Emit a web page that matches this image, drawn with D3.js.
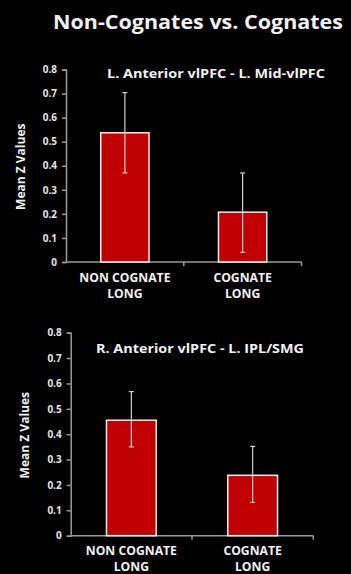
<!DOCTYPE html>
<html>
<head>
<meta charset="utf-8">
<script src="https://cdn.jsdelivr.net/npm/d3@7"></script>
<style>
  body { margin: 0; background: #000; }
  svg { display: block; }
  text { font-family: "Open Sans", "DejaVu Sans", sans-serif; font-weight: bold; }
</style>
</head>
<body>
<div class="chart"></div>
<script>
// data
var mainTitle = "Non-Cognates vs. Cognates";
var panelTitles = ["L. Anterior vlPFC - L. Mid-vlPFC", "R. Anterior vlPFC - L. IPL/SMG"];
var categories = ["NON COGNATE LONG", "COGNATE LONG"];
var categoryLines = [["NON COGNATE", "LONG"], ["COGNATE", "LONG"]];
var yTicks = [0, 0.1, 0.2, 0.3, 0.4, 0.5, 0.6, 0.7, 0.8];
var yLabel = "Mean Z Values";

var means1 = [0.537, 0.207];
var errLow1 = [0.370, 0.040];
var errHigh1 = [0.704, 0.370];

var means2 = [0.455, 0.238];
var errLow2 = [0.350, 0.131];
var errHigh2 = [0.568, 0.352];

var W = 351, H = 574;
var svg = d3.select(".chart").append("svg")
    .attr("width", W)
    .attr("height", H);

svg.append("rect").attr("width", W).attr("height", H).attr("fill", "#000");

svg.append("text")
    .attr("x", 198)
    .attr("y", 29)
    .attr("text-anchor", "middle")
    .attr("fill", "#f2f2f2")
    .attr("font-size", 19)
    .attr("textLength", 290)
    .attr("lengthAdjust", "spacingAndGlyphs")
    .text(mainTitle);

// panel layouts
var panels = [
    { left: 66, right: 301.5, top: 69.5, bottom: 262, title: panelTitles[0], tx: 107, ty: 78, tw: 218,
      ylx: 21, means: means1, lo: errLow1, hi: errHigh1, labY: 282 },
    { left: 70.7, right: 313.3, top: 332.7, bottom: 535.7, title: panelTitles[1], tx: 96, ty: 353, tw: 208,
      ylx: 25, means: means2, lo: errLow2, hi: errHigh2, labY: 554.5 }
];

panels.forEach(function (p) {
    var g = svg.append("g");

    var x = d3.scaleBand()
        .domain(categories)
        .range([p.left, p.right])
        .paddingInner(0.59)
        .paddingOuter(0.295);

    var y = d3.scaleLinear()
        .domain([0, 0.8])
        .range([p.bottom, p.top]);

    // y axis
    var yAxis = g.append("g")
        .attr("transform", "translate(" + p.left + ",0)")
        .call(d3.axisLeft(y).tickValues(yTicks).tickSize(4).tickPadding(5)
            .tickFormat(function (d) { return d === 0 ? "0" : d3.format(".1f")(d); }));
    yAxis.select(".domain").attr("stroke", "#9a9a9a").attr("stroke-width", 1.5);
    yAxis.selectAll(".tick line").attr("stroke", "#9a9a9a").attr("stroke-width", 1.5);
    yAxis.selectAll(".tick text")
        .attr("fill", "#e6e6e6")
        .attr("font-size", 10)
        .attr("font-family", "'Liberation Sans', Arial, sans-serif")
        .attr("font-weight", "bold");

    // x axis: line with ticks at band boundaries
    var xl = g.append("g");
    xl.append("line")
        .attr("x1", p.left).attr("x2", p.right)
        .attr("y1", p.bottom).attr("y2", p.bottom)
        .attr("stroke", "#9a9a9a").attr("stroke-width", 1.5);
    var bounds = [p.left + (p.right - p.left) / 2, p.right];
    xl.selectAll(".xt")
        .data(bounds)
        .enter()
        .append("line")
        .attr("x1", function (d) { return d; })
        .attr("x2", function (d) { return d; })
        .attr("y1", p.bottom)
        .attr("y2", p.bottom + 4)
        .attr("stroke", "#9a9a9a").attr("stroke-width", 1.5);

    // bars
    g.selectAll(".bar")
        .data(p.means)
        .enter()
        .append("rect")
        .attr("x", function (d, i) { return x(categories[i]); })
        .attr("y", function (d) { return y(d); })
        .attr("width", x.bandwidth())
        .attr("height", function (d) { return y(0) - y(d); })
        .attr("fill", "#c00000")
        .attr("stroke", "#f0f0f0")
        .attr("stroke-width", 1.5);

    // error bars
    p.means.forEach(function (d, i) {
        var cx = x(categories[i]) + x.bandwidth() / 2;
        g.append("line")
            .attr("x1", cx).attr("x2", cx)
            .attr("y1", y(p.lo[i])).attr("y2", y(p.hi[i]))
            .attr("stroke", "#d0d0d0").attr("stroke-width", 1.2);
        [p.lo[i], p.hi[i]].forEach(function (v) {
            g.append("line")
                .attr("x1", cx - 2.5).attr("x2", cx + 2.5)
                .attr("y1", y(v)).attr("y2", y(v))
                .attr("stroke", "#d0d0d0").attr("stroke-width", 1.2);
        });
    });

    // category labels
    categoryLines.forEach(function (lines, i) {
        var cx = x(categories[i]) + x.bandwidth() / 2;
        var t = g.append("text")
            .attr("x", cx)
            .attr("y", p.labY)
            .attr("text-anchor", "middle")
            .attr("fill", "#f2f2f2")
            .attr("font-size", 12.2);
        lines.forEach(function (l, k) {
            t.append("tspan")
                .attr("x", cx)
                .attr("dy", k === 0 ? 0 : 16)
                .text(l);
        });
    });

    // panel title
    g.append("text")
        .attr("x", p.tx)
        .attr("y", p.ty)
        .attr("fill", "#f2f2f2")
        .attr("font-size", 12.5)
        .attr("textLength", p.tw)
        .attr("lengthAdjust", "spacingAndGlyphs")
        .text(p.title);

    // y label
    g.append("text")
        .attr("transform", "translate(" + p.ylx + "," + ((p.top + p.bottom) / 2 + 1) + ") rotate(-90)")
        .attr("text-anchor", "middle")
        .attr("dy", "0.35em")
        .attr("fill", "#f2f2f2")
        .attr("font-size", 12)
        .text(yLabel);
});
</script>
</body>
</html>
